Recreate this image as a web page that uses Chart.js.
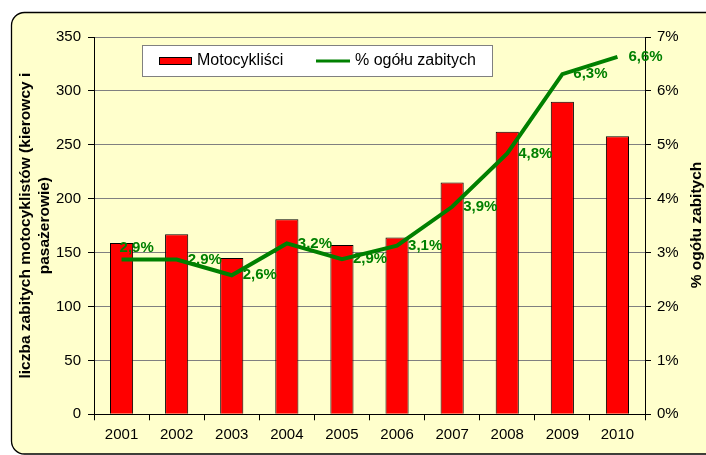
<!DOCTYPE html>
<html>
<head>
<meta charset="utf-8">
<script src="https://cdn.jsdelivr.net/npm/chart.js@4.4.1/dist/chart.umd.min.js"></script>
<style>
  html, body { margin: 0; padding: 0; background: #fff; }
  #wrap { width: 706px; height: 455px; }
</style>
</head>
<body>
<div id="wrap"><canvas id="chart" width="706" height="455"></canvas></div>
<script>
const years = ["2001", "2002", "2003", "2004", "2005", "2006", "2007", "2008", "2009", "2010"];
const motorcyclists = [159, 167, 145, 181, 157, 164, 215, 262, 290, 258];
const shareOfKilled = [2.87, 2.87, 2.58, 3.17, 2.88, 3.13, 3.85, 4.84, 6.31, 6.63];

const barLabel = "Motocykliści";
const lineLabel = "% ogółu zabitych";
const leftTitle = ["liczba zabitych motocyklistów (kierowcy i", "pasażerowie)"];
const rightTitle = "% ogółu zabitych";

const FONT = "'Liberation Sans', Arial, sans-serif";
const GREEN = "#008000";
const BG = "#FFFFCC";

// frame with rounded corners behind everything
const framePlugin = {
  id: "frame",
  beforeDraw(chart) {
    const ctx = chart.ctx;
    ctx.save();
    ctx.fillStyle = "#fff";
    ctx.fillRect(0, 0, chart.width, chart.height);
    ctx.beginPath();
    ctx.roundRect(11.5, 12.5, 730, 441.5, 13);
    ctx.fillStyle = BG;
    ctx.fill();
    ctx.lineWidth = 1.3;
    ctx.strokeStyle = "#000";
    ctx.stroke();
    ctx.restore();
  }
};

// value labels next to the line points
const lineLabelsPlugin = {
  id: "lineLabels",
  afterDatasetsDraw(chart) {
    const ctx = chart.ctx;
    const meta = chart.getDatasetMeta(0);
    ctx.save();
    ctx.font = "bold 15px " + FONT;
    ctx.fillStyle = GREEN;
    ctx.textBaseline = "middle";
    ctx.textAlign = "left";
    meta.data.forEach((pt, i) => {
      const txt = shareOfKilled[i].toFixed(1).replace(".", ",") + "%";
      if (i === 0) {
        ctx.fillText(txt, pt.x - 2, pt.y - 12);
      } else {
        ctx.fillText(txt, pt.x + 11, pt.y);
      }
    });
    ctx.restore();
  }
};

// legend box inside the plot and the right axis title
const legendPlugin = {
  id: "customLegend",
  afterDraw(chart) {
    const ctx = chart.ctx;
    ctx.save();
    ctx.fillStyle = "#fff";
    ctx.fillRect(142, 45, 351, 32);
    ctx.strokeStyle = "#808080";
    ctx.lineWidth = 1;
    ctx.strokeRect(142.5, 45.5, 350, 31);

    ctx.fillStyle = "#FF0000";
    ctx.fillRect(159, 57, 33, 8);
    ctx.strokeStyle = "#000";
    ctx.strokeRect(159.5, 57.5, 32, 7);

    ctx.strokeStyle = GREEN;
    ctx.lineWidth = 3;
    ctx.beginPath();
    ctx.moveTo(316, 61);
    ctx.lineTo(350, 61);
    ctx.stroke();

    ctx.fillStyle = "#000";
    ctx.font = "16px " + FONT;
    ctx.textBaseline = "middle";
    ctx.fillText(barLabel, 197, 61);
    ctx.fillText(lineLabel, 355, 61);

    ctx.translate(697, 225);
    ctx.rotate(-Math.PI / 2);
    ctx.font = "bold 15.5px " + FONT;
    ctx.textAlign = "center";
    ctx.fillText(rightTitle, 0, 0);
    ctx.restore();
  }
};

new Chart(document.getElementById("chart"), {
  data: {
    labels: years,
    datasets: [
      {
        type: "line",
        label: lineLabel,
        data: shareOfKilled,
        yAxisID: "yRight",
        borderColor: GREEN,
        borderWidth: 4,
        pointRadius: 0,
        tension: 0,
        order: 0
      },
      {
        type: "bar",
        label: barLabel,
        data: motorcyclists,
        yAxisID: "yLeft",
        backgroundColor: "#FF0000",
        borderColor: "#000",
        borderWidth: 1,
        categoryPercentage: 1,
        barPercentage: 0.42,
        order: 1
      }
    ]
  },
  options: {
    responsive: false,
    animation: false,
    layout: { padding: { top: 37, left: 0, right: 0, bottom: 0 } },
    plugins: {
      legend: { display: false },
      tooltip: { enabled: false }
    },
    scales: {
      x: {
        offset: true,
        grid: { drawOnChartArea: false, offset: true, tickLength: 6, tickColor: "#000" },
        border: { color: "#000", width: 1 },
        ticks: { color: "#000", font: { family: FONT, size: 15 }, padding: 6 },
        afterFit(scale) { scale.height = 40.7; }
      },
      yLeft: {
        position: "left",
        min: 0,
        max: 350,
        ticks: { stepSize: 50, color: "#000", font: { family: FONT, size: 15 }, padding: 7 },
        grid: { color: "#808080", tickLength: 6, tickColor: "#000" },
        border: { color: "#000", width: 1 },
        title: {
          display: true,
          text: leftTitle,
          color: "#000",
          font: { family: FONT, size: 15.5, weight: "bold", lineHeight: 1.22 },
          padding: { top: 16.5, bottom: 0 }
        },
        afterFit(scale) { scale.width = 94; }
      },
      yRight: {
        position: "right",
        min: 0,
        max: 7,
        ticks: {
          stepSize: 1,
          color: "#000",
          font: { family: FONT, size: 15 },
          padding: 6,
          callback: (v) => v + "%"
        },
        grid: { drawOnChartArea: false, tickLength: 6, tickColor: "#000" },
        border: { color: "#000", width: 1 },
        afterFit(scale) { scale.width = 61; }
      }
    }
  },
  plugins: [framePlugin, lineLabelsPlugin, legendPlugin]
});
</script>
</body>
</html>
